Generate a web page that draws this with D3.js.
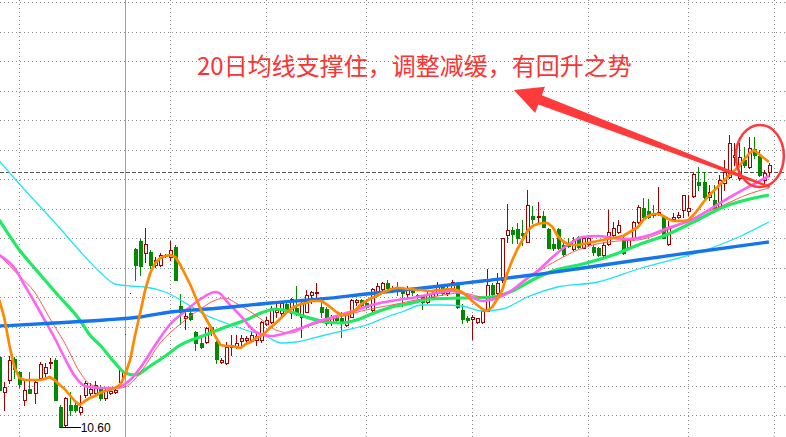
<!DOCTYPE html>
<html><head><meta charset="utf-8">
<script src="https://cdn.jsdelivr.net/npm/d3@7/dist/d3.min.js"></script>
<style>html,body{margin:0;padding:0;background:#fff;overflow:hidden}</style>
</head><body>
<svg id="chart" width="786" height="437"></svg>
<script>
// ---- daily candles (day 0 = first, partly cut-off candle at the left edge) ----
const opens = [
 11.30,10.95,11.07,11.28,11.15,10.87,10.98,10.94,11.09,11.14,
 11.24,11.27,10.80,10.62,10.82,10.82,10.75,10.92,10.94,10.94,
 11.00,10.89,10.94,10.95,11.05,11.53,11.94,12.38,12.46,12.34,
 12.35,12.22,12.22,12.31,12.30,12.40,11.81,11.69,11.74,11.55,
 11.44,11.45,11.60,11.45,11.25,11.24,11.40,11.40,11.46,11.47,
 11.46,11.47,11.47,11.63,11.65,11.75,11.74,11.83,11.74,11.79,
 11.70,11.75,11.92,11.94,11.80,11.78,11.64,11.69,11.69,11.62,
 11.70,11.85,11.87,11.84,11.77,11.95,11.98,12.04,11.96,12.00,
 11.97,11.93,11.96,11.92,11.91,11.85,11.90,11.94,12.01,11.94,
 11.98,12.04,11.77,11.69,11.68,11.65,11.65,11.76,12.02,11.94,
 12.07,12.52,12.57,12.58,12.54,12.45,12.71,12.70,12.71,12.58,
 12.43,12.58,12.42,12.44,12.38,12.50,12.39,12.43,12.40,12.39,
 12.32,12.43,12.52,12.55,12.49,12.40,12.49,12.65,12.79,12.76,
 12.74,12.73,12.70,12.43,12.68,12.70,12.77,12.76,12.91,13.05,
 13.05,12.90,12.87,12.80,13.04,13.10,13.30,13.09,13.27,13.20,
 13.38,13.31,13.07,13.15];
const highs = [
 11.32,11.05,11.31,11.30,11.16,11.07,11.15,11.07,11.25,11.24,
 11.29,11.29,10.82,10.90,10.95,10.85,10.92,11.06,11.04,11.06,
 11.02,10.99,10.98,11.00,11.19,11.53,11.94,12.39,12.48,12.59,
 12.37,12.30,12.34,12.33,12.46,12.42,11.93,11.75,11.82,11.56,
 11.52,11.60,11.61,11.46,11.29,11.45,11.52,11.52,11.52,11.51,
 11.55,11.54,11.66,11.70,11.81,11.85,11.86,11.84,11.89,12.01,
 11.86,11.97,11.96,12.04,11.85,11.80,11.72,11.72,11.75,11.74,
 11.88,11.88,11.88,11.88,11.99,12.04,12.05,12.07,12.01,12.05,
 12.00,12.01,11.98,11.93,11.92,11.97,11.95,12.05,12.03,12.02,
 12.07,12.05,11.83,11.71,11.72,11.69,11.77,12.18,12.04,12.14,
 12.49,12.83,12.60,12.64,12.67,12.97,12.81,12.85,12.76,12.59,
 12.49,12.59,12.47,12.49,12.50,12.51,12.50,12.52,12.42,12.40,
 12.45,12.77,12.65,12.67,12.50,12.49,12.66,12.82,12.89,12.88,
 12.82,13.00,12.71,12.66,12.74,12.75,12.92,12.92,13.14,13.20,
 13.15,13.02,13.02,13.12,13.27,13.52,13.44,13.44,13.40,13.50,
 13.50,13.37,13.17,13.24];
const lows = [
 10.92,10.77,11.04,11.09,11.00,10.82,10.94,10.84,11.07,11.10,
 11.19,10.87,10.60,10.61,10.72,10.75,10.73,10.90,10.92,10.92,
 10.87,10.87,10.93,10.94,11.04,11.53,11.94,12.07,12.12,12.25,
 12.19,12.20,12.21,12.30,12.27,12.07,11.63,11.58,11.67,11.37,
 11.39,11.44,11.52,11.24,11.24,11.23,11.32,11.39,11.40,11.44,
 11.45,11.42,11.45,11.62,11.64,11.70,11.72,11.75,11.69,11.72,
 11.50,11.75,11.84,11.89,11.70,11.62,11.62,11.65,11.50,11.61,
 11.70,11.82,11.81,11.79,11.76,11.94,11.96,11.95,11.95,11.92,
 11.81,11.90,11.92,11.89,11.78,11.84,11.90,11.92,11.92,11.92,
 11.97,11.79,11.64,11.65,11.48,11.64,11.64,11.76,11.90,11.92,
 12.05,12.45,12.44,12.44,12.42,12.45,12.64,12.64,12.60,12.39,
 12.37,12.38,12.31,12.40,12.37,12.39,12.39,12.42,12.32,12.31,
 12.30,12.42,12.50,12.54,12.33,12.39,12.47,12.64,12.68,12.69,
 12.70,12.72,12.49,12.42,12.66,12.69,12.70,12.72,12.90,12.97,
 12.89,12.87,12.78,12.79,12.97,13.09,13.22,13.07,13.20,13.19,
 13.29,13.11,13.02,13.11];
const closes = [
 10.97,11.00,11.27,11.18,11.03,10.97,10.94,11.05,11.23,11.20,
 11.25,10.87,10.60,10.89,10.77,10.77,10.80,11.04,10.98,11.02,
 10.89,10.97,10.96,10.97,11.17,11.53,11.94,12.22,12.21,12.43,
 12.22,12.27,12.32,12.32,12.37,12.07,11.75,11.71,11.68,11.44,
 11.40,11.59,11.54,11.28,11.27,11.40,11.42,11.44,11.49,11.49,
 11.52,11.51,11.65,11.67,11.79,11.77,11.84,11.77,11.88,11.74,
 11.84,11.92,11.95,11.95,11.75,11.64,11.70,11.67,11.66,11.73,
 11.87,11.87,11.82,11.80,11.98,12.01,12.04,11.99,11.99,11.98,
 11.94,11.99,11.95,11.90,11.85,11.93,11.93,12.01,11.94,11.99,
 12.05,11.80,11.68,11.67,11.70,11.69,11.76,12.02,11.93,12.04,
 12.49,12.57,12.53,12.49,12.52,12.82,12.68,12.71,12.60,12.39,
 12.39,12.39,12.33,12.41,12.47,12.40,12.49,12.49,12.35,12.32,
 12.42,12.55,12.59,12.62,12.34,12.47,12.65,12.80,12.70,12.70,
 12.72,12.75,12.49,12.59,12.70,12.72,12.92,12.79,13.13,13.02,
 12.90,12.95,12.79,13.07,13.15,13.44,13.32,13.30,13.22,13.39,
 13.32,13.12,13.14,13.22];

// ---- moving averages ----
const ma5 = [
 11.87,11.69,11.42,11.20,11.09,11.07,11.07,11.07,11.07,11.08,
 11.10,11.07,11.02,10.98,10.92,10.86,10.82,10.86,10.89,10.91,
 10.94,10.96,10.97,10.99,11.02,11.12,11.27,11.52,11.74,11.97,
 12.14,12.24,12.29,12.31,12.32,12.30,12.22,12.12,12.02,11.90,
 11.78,11.69,11.60,11.50,11.42,11.41,11.41,11.40,11.39,11.43,
 11.45,11.49,11.51,11.55,11.60,11.64,11.69,11.74,11.78,11.81,
 11.83,11.84,11.86,11.86,11.86,11.83,11.79,11.75,11.72,11.72,
 11.74,11.78,11.83,11.86,11.89,11.91,11.94,11.96,11.98,11.99,
 11.99,11.98,11.98,11.97,11.97,11.96,11.96,11.97,11.97,11.98,
 11.98,11.97,11.95,11.91,11.86,11.82,11.78,11.76,11.80,11.88,
 11.97,12.14,12.27,12.38,12.47,12.56,12.61,12.63,12.64,12.64,
 12.60,12.51,12.46,12.43,12.42,12.42,12.43,12.44,12.45,12.46,
 12.47,12.48,12.49,12.50,12.51,12.54,12.57,12.60,12.67,12.71,
 12.73,12.73,12.71,12.68,12.66,12.66,12.66,12.67,12.72,12.78,
 12.85,12.91,12.96,13.01,13.06,13.11,13.16,13.20,13.27,13.33,
 13.37,13.33,13.29,13.25];
// [day, price]
const ma10 = [[0,12.32],[3,12.19],[5,12.02],[7,11.85],[9,11.67],[11,11.49],[13,11.29],[15,11.11],[17,11.01],[20,10.99],[23,10.99],[26,11.07],[28,11.19],[31,11.42],[34,11.63],[37,11.76],[40,11.88],[43,11.95],[44,11.93],[45,11.87],[48,11.71],[51,11.55],[54,11.51],[57,11.54],[60,11.59],[63,11.65],[67,11.71],[71,11.77],[74,11.82],[78,11.86],[83,11.90],[87,11.94],[90,11.96],[93,11.92],[96,11.86],[99,11.89],[102,11.97],[105,12.09],[107,12.16],[110,12.30],[113,12.42],[116,12.50],[119,12.51],[122,12.49],[125,12.48],[128,12.50],[133,12.59],[138,12.68],[142,12.80],[146,12.92],[150,13.03],[153,13.11]];
const ma20 = [[0,12.32],[4,12.11],[7,11.95],[10,11.69],[13,11.44],[16,11.15],[18,11.03],[21,10.99],[24,10.99],[26,11.03],[28,11.14],[32,11.44],[36,11.63],[40,11.78],[43,11.87],[45,11.89],[47,11.84],[50,11.75],[52,11.68],[55,11.57],[58,11.54],[61,11.60],[64,11.65],[67,11.69],[72,11.76],[79,11.83],[86,11.90],[92,11.94],[97,11.89],[101,11.95],[104,12.04],[107,12.15],[111,12.27],[115,12.37],[118,12.42],[123,12.46],[127,12.47],[132,12.55],[138,12.69],[144,12.82],[149,12.93],[153,12.99]];
const ma30 = [[0,12.67],[4,12.37],[7,12.19],[12,11.90],[16,11.67],[18,11.52],[20,11.42],[23,11.24],[25,11.14],[27,11.12],[30,11.21],[33,11.31],[36,11.42],[41,11.52],[45,11.60],[49,11.67],[52,11.74],[55,11.78],[58,11.75],[61,11.70],[65,11.65],[68,11.64],[71,11.67],[74,11.73],[78,11.80],[81,11.83],[86,11.88],[92,11.89],[98,11.90],[102,11.96],[106,12.07],[110,12.16],[116,12.23],[122,12.32],[127,12.42],[133,12.53],[138,12.65],[144,12.80],[153,12.92]];
const ma60 = [[0,13.26],[4,13.03],[8,12.81],[12,12.59],[16,12.36],[20,12.15],[23,12.03],[26,12.01],[29,12.00],[33,11.95],[37,11.84],[41,11.72],[45,11.64],[49,11.57],[53,11.51],[56,11.44],[59,11.45],[64,11.51],[69,11.57],[73,11.62],[77,11.70],[80,11.75],[84,11.82],[88,11.82],[92,11.81],[96,11.76],[100,11.78],[105,11.90],[111,12.00],[119,12.05],[127,12.18],[141,12.38],[147,12.50],[153,12.65]];
const ma120 = [[0,11.61],[11,11.64],[21,11.67],[28,11.70],[34,11.75],[44,11.79],[54,11.84],[64,11.88],[73,11.93],[86,12.00],[96,12.06],[106,12.12],[116,12.19],[127,12.27],[137,12.34],[153,12.45]];

const gridDays = [4, 34, 53, 73, 94, 117, 137, 154];  // dotted period separators
const dividerDay = 25;                                 // solid separator
const lastPrice = 13.15;                               // dashed price line
const lowDay = 12, lowLabel = "10.60";
const note = "20日均线支撑住，调整减缓，有回升之势";

// ---- scales ----
const W = 786, H = 437;
const svg = d3.select('#chart');
const x = d3.scaleLinear().domain([0, 153]).range([-0.7, 768.9]);
const y = d3.scaleLinear().domain([10.50, 14.87]).range([H, 0]);

svg.append('rect').attr('width', W).attr('height', H).attr('fill', '#fff');

// ---- grid ----
const grid = svg.append('g').attr('shape-rendering', 'crispEdges');
d3.range(15).forEach(i => {
  const yy = Math.round(2 + 29.5 * i) + 0.5;
  grid.append('line').attr('x1', 0).attr('x2', W).attr('y1', yy).attr('y2', yy)
    .attr('stroke', '#8a8a8a').attr('stroke-dasharray', '1,3');
});
gridDays.forEach(d => {
  const xx = Math.round(x(d)) + 0.5;
  grid.append('line').attr('x1', xx).attr('x2', xx).attr('y1', 0).attr('y2', H)
    .attr('stroke', '#8a8a8a').attr('stroke-dasharray', '1,3');
});
grid.append('line').attr('x1', Math.round(x(dividerDay)) + 0.5).attr('x2', Math.round(x(dividerDay)) + 0.5)
  .attr('y1', 0).attr('y2', H).attr('stroke', '#a0a0a0');
grid.append('line').attr('x1', 0).attr('x2', W)
  .attr('y1', Math.round(y(lastPrice)) + 0.5).attr('y2', Math.round(y(lastPrice)) + 0.5)
  .attr('stroke', '#555').attr('stroke-dasharray', '4,2');

// ---- candles ----
const upCol = '#a50000', downCol = '#008a00';
const cg = svg.append('g').attr('shape-rendering', 'crispEdges');
opens.forEach((o, d) => {
  const c = closes[d], h = highs[d], l = lows[d];
  const cx = Math.round(x(d));
  const up = c >= o;
  const col = up ? upCol : downCol;
  cg.append('line').attr('x1', cx + 0.5).attr('x2', cx + 0.5)
    .attr('y1', Math.round(y(h))).attr('y2', Math.round(y(l)) + 1).attr('stroke', col);
  const yt = Math.round(y(Math.max(o, c))), yb = Math.round(y(Math.min(o, c)));
  if (up) {
    cg.append('rect').attr('x', cx - 0.5).attr('y', yt + 0.5).attr('width', 3)
      .attr('height', Math.max(0, yb - yt)).attr('fill', '#fff').attr('stroke', col);
  } else {
    cg.append('rect').attr('x', cx - 1).attr('y', yt).attr('width', 4)
      .attr('height', Math.max(1, yb - yt + 1)).attr('fill', col);
  }
});

// ---- moving averages ----
const lineS = d3.line().x(p => x(p[0])).y(p => y(p[1])).curve(d3.curveMonotoneX);
const mg = svg.append('g').attr('fill', 'none').attr('stroke-linejoin', 'round');
mg.append('path').attr('d', lineS(ma60)).attr('stroke', '#22e4f2').attr('stroke-width', 1.3);
mg.append('path').attr('d', lineS(ma30)).attr('stroke', '#1eea62').attr('stroke-width', 3.2);
mg.append('path').attr('d', lineS(ma20)).attr('stroke', '#ff5a5a').attr('stroke-width', 1);
mg.append('path').attr('d', lineS(ma10)).attr('stroke', '#ff62f2').attr('stroke-width', 2.6);
mg.append('path').attr('d', lineS(ma120)).attr('stroke', '#1575ee').attr('stroke-width', 3.3);
mg.append('path').attr('d', d3.line().x((v, i) => x(i)).y(v => y(v))(ma5))
  .attr('stroke', '#ff8800').attr('stroke-width', 2.7);

// ---- low label ----
const ly = Math.round(y(d3.min(lows))) + 0.5;
const lx = x(lowDay);
svg.append('line').attr('x1', lx).attr('x2', lx + 21).attr('y1', ly).attr('y2', ly)
  .attr('stroke', '#000').attr('shape-rendering', 'crispEdges');
svg.append('text').attr('x', lx + 21).attr('y', ly + 4.5).text(lowLabel)
  .attr('font-family', 'Liberation Sans, Arial, sans-serif').attr('font-size', 12).attr('fill', '#000');

// ---- annotation ----
const red = '#ff3a3a';
svg.append('text').attr('x', 197).attr('y', 75).text(note)
  .attr('font-family', '"Noto Sans CJK SC", sans-serif').attr('font-size', 24).attr('fill', '#fa3434');

const tip = [x(102.3), y(13.97)], tail = [x(153.2), y(13.00)];
const dx = tail[0] - tip[0], dy = tail[1] - tip[1], len = Math.hypot(dx, dy);
const u = [dx / len, dy / len], n = [-u[1], u[0]];
const P = (p, a, b) => [p[0] + u[0] * a + n[0] * b, p[1] + u[1] * a + n[1] * b];
const hl = 28;
const arrow = [tip, P(tip, hl, 14), P(tip, hl, 5), P(tail, 0, 1), P(tail, 0, -1), P(tip, hl, -5), P(tip, hl, -14)];
svg.append('polygon').attr('points', arrow.map(p => p.join(',')).join(' ')).attr('fill', red);

svg.append('ellipse').attr('cx', x(151.2)).attr('cy', y(13.31)).attr('rx', 24).attr('ry', 31)
  .attr('fill', 'none').attr('stroke', red).attr('stroke-width', 2.5);
</script>
</body></html>
